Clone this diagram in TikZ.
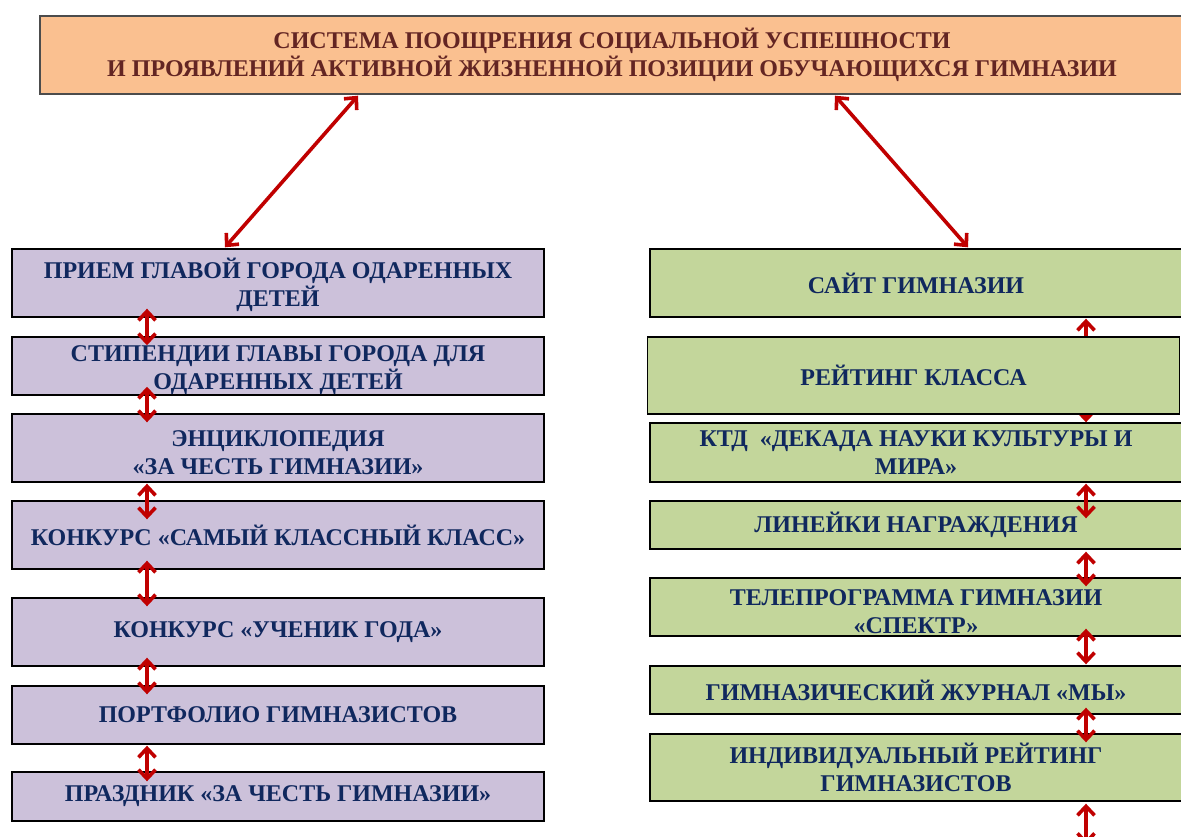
\documentclass[tikz,border=0pt]{standalone}
\usepackage{fontspec}
\setmainfont{Liberation Serif}
\usetikzlibrary{arrows.meta}
\definecolor{topfill}{HTML}{FAC090}
\definecolor{toptext}{HTML}{632523}
\definecolor{lfill}{HTML}{CCC1DA}
\definecolor{rfill}{HTML}{C3D69B}
\definecolor{navy}{HTML}{10285E}
\definecolor{arrowred}{HTML}{C00000}
\newcommand{\lowerstrut}{\rule{0pt}{25pt}}
\begin{document}
\begin{tikzpicture}[x=1pt,y=-1pt,
  box/.style={draw=black, line width=1.4pt, font=\bfseries\fontsize{24}{28}\selectfont,
    text=navy, align=center, inner sep=0pt, minimum width=532pt},
  lbox/.style={box, fill=lfill},
  rbox/.style={box, fill=rfill},
  conn/.style={draw=arrowred, line width=3.6pt,
    {Straight Barb[length=9pt,width=17pt]}-{Straight Barb[length=9pt,width=17pt]}}]
\clip (0,0) rectangle (1181,837);
\fill[white] (0,0) rectangle (1181,837);
% top box
\node[box, fill=topfill, draw=black!70, text=toptext, minimum width=1144pt, minimum height=78pt]
  (top) at (612,55) {СИСТЕМА ПООЩРЕНИЯ СОЦИАЛЬНОЙ УСПЕШНОСТИ\\И ПРОЯВЛЕНИЙ АКТИВНОЙ ЖИЗНЕННОЙ ПОЗИЦИИ ОБУЧАЮЩИХСЯ ГИМНАЗИИ};
% left column
\node[lbox, minimum height=68pt] (L1) at (278,283) {\lowerstrut ПРИЕМ ГЛАВОЙ ГОРОДА ОДАРЕННЫХ\\ДЕТЕЙ};
\node[lbox, minimum height=58pt] (L2) at (278,366) {\lowerstrut СТИПЕНДИИ ГЛАВЫ ГОРОДА ДЛЯ\\ОДАРЕННЫХ ДЕТЕЙ};
\node[lbox, minimum height=68pt] (L3) at (278,448) {\lowerstrut ЭНЦИКЛОПЕДИЯ\\«ЗА ЧЕСТЬ ГИМНАЗИИ»};
\node[lbox, minimum height=68pt] (L4) at (278,535) {КОНКУРС «САМЫЙ КЛАССНЫЙ КЛАСС»};
\node[lbox, minimum height=68pt] (L5) at (278,632) {КОНКУРС «УЧЕНИК ГОДА»};
\node[lbox, minimum height=58pt] (L6) at (278,715) {ПОРТФОЛИО ГИМНАЗИСТОВ};
\node[lbox, minimum height=49pt] (L7) at (278,796.5) {ПРАЗДНИК «ЗА ЧЕСТЬ ГИМНАЗИИ»};
% right column
\node[rbox, minimum height=68pt] (R1) at (916,283) {САЙТ ГИМНАЗИИ};
\node[rbox, minimum height=59pt] (R3) at (916,452.5) {КТД~~«ДЕКАДА НАУКИ КУЛЬТУРЫ И\\МИРА»};
\node[rbox, minimum height=48pt] (R4) at (916,525) {ЛИНЕЙКИ НАГРАЖДЕНИЯ};
\node[rbox, minimum height=58pt] (R5) at (916,607) {\lowerstrut ТЕЛЕПРОГРАММА ГИМНАЗИИ\\«СПЕКТР»};
\node[rbox, minimum height=48pt] (R6) at (916,690) {ГИМНАЗИЧЕСКИЙ ЖУРНАЛ «МЫ»};
\node[rbox, minimum height=67pt] (R7) at (916,767.5) {ИНДИВИДУАЛЬНЫЙ РЕЙТИНГ\\ГИМНАЗИСТОВ};
% arrow partly hidden behind R2
\draw[conn] ([shift={(170,1)}]R1.south) -- ([shift={(170,0)}]R3.north);
\node[rbox, minimum height=77pt] (R2) at (913.5,375.5) {РЕЙТИНГ КЛАССА};
% diagonal connectors
\draw[conn] ([shift={(-254,1)}]top.south) -- ([shift={(-53,-1)}]L1.north);
\draw[conn] ([shift={(223,1)}]top.south) -- ([shift={(52,-1)}]R1.north);
% left connectors
\draw[conn] ([shift={(-131,-9)}]L1.south) -- ([shift={(-131,9)}]L2.north);
\draw[conn] ([shift={(-131,-9)}]L2.south) -- ([shift={(-131,9)}]L3.north);
\draw[conn] ([shift={(-131,1)}]L3.south) -- ([shift={(-131,19)}]L4.north);
\draw[conn] ([shift={(-131,-9)}]L4.south) -- ([shift={(-131,9)}]L5.north);
\draw[conn] ([shift={(-131,-9)}]L5.south) -- ([shift={(-131,9)}]L6.north);
\draw[conn] ([shift={(-131,1)}]L6.south) -- ([shift={(-131,10)}]L7.north);
% right connectors
\draw[conn] ([shift={(170,1)}]R3.south) -- ([shift={(170,18)}]R4.north);
\draw[conn] ([shift={(170,2)}]R4.south) -- ([shift={(170,9)}]R5.north);
\draw[conn] ([shift={(170,-8)}]R5.south) -- ([shift={(170,-1)}]R6.north);
\draw[conn] ([shift={(170,-7)}]R6.south) -- ([shift={(170,9)}]R7.north);
\coordinate (rend) at (1086,845);
\draw[conn] ([shift={(170,2)}]R7.south) -- (rend);
\end{tikzpicture}
\end{document}
